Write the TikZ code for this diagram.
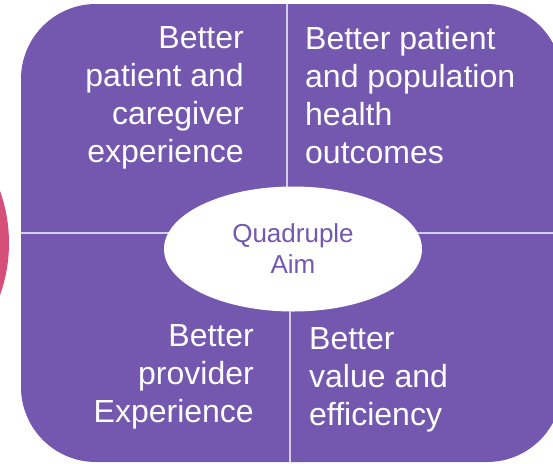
\documentclass[tikz,border=0pt]{standalone}
\usepackage{fontspec}
\setmainfont{Liberation Sans}
\usetikzlibrary{shapes.geometric}
\definecolor{aimpurple}{RGB}{116,87,174}
\definecolor{aimpink}{RGB}{214,79,122}
\begin{document}
\begin{tikzpicture}[x=1pt, y=-1pt,
    quad/.style={text=white, inner sep=0pt, font=\fontsize{32}{38}\selectfont},
    divider/.style={white, opacity=0.7, line width=1.6pt}]
    \clip (0, 0) rectangle (553, 463);

    \fill[aimpink] (-146, 243) circle (155pt);
    \fill[aimpurple, rounded corners=75pt] (21, 4) rectangle (562, 462);

    \draw[divider] (287, 4) -- (287, 233);
    \draw[divider] (290, 233) -- (290, 462);
    \draw[divider] (21, 233) -- (562, 233);

    \node[quad, anchor=east, align=right] (tl) at (244, 98) {Better\\patient and\\caregiver\\experience};
    \node[quad, anchor=west, align=left] (tr) at (305, 95) {Better patient\\and population\\health\\outcomes};
    \node[quad, anchor=east, align=right] (bl) at (254, 377) {Better\\provider\\Experience};
    \node[quad, anchor=west, align=left] (br) at (309, 380) {Better\\value and\\efficiency};

    \node[ellipse, fill=white, minimum width=258pt, minimum height=125pt, text=aimpurple,
        align=center, font=\fontsize{26}{31}\selectfont] (aim) at (293, 249) {Quadruple\\Aim};
\end{tikzpicture}
\end{document}
